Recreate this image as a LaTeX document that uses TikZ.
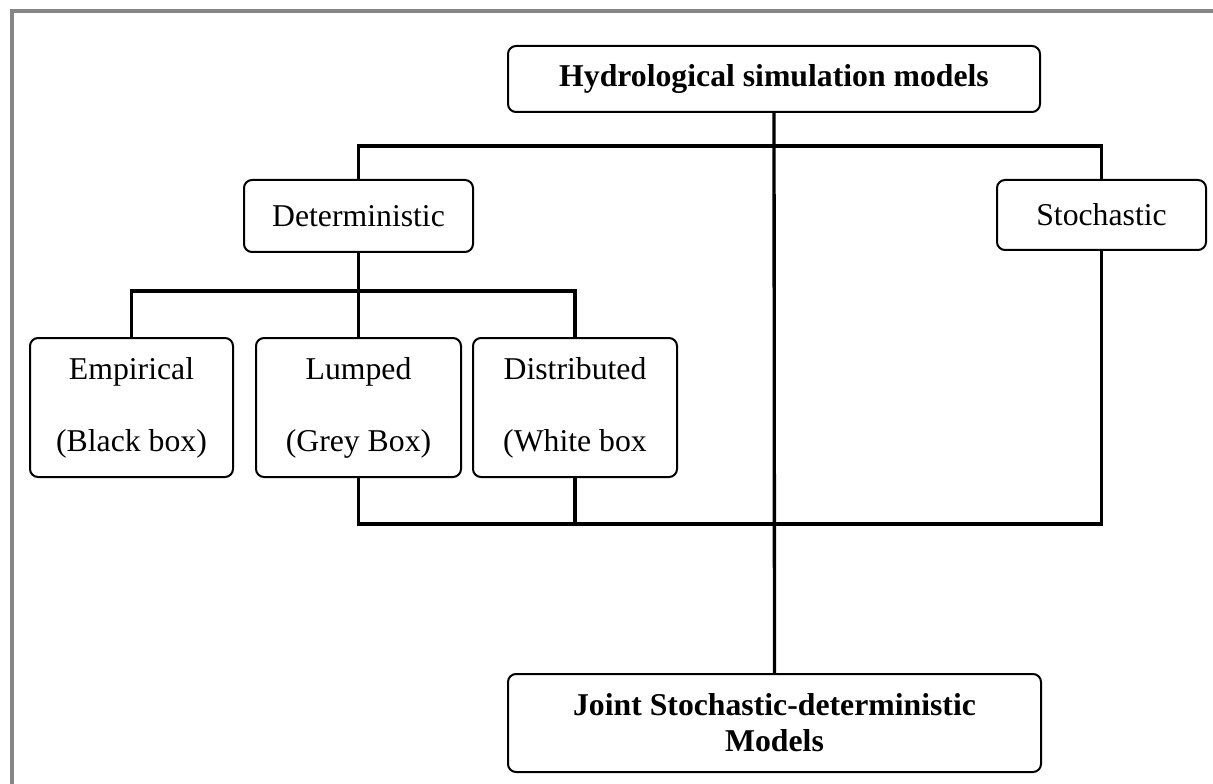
\documentclass[tikz,border=0pt]{standalone}
\usepackage{fontspec}
\setmainfont{Liberation Serif}

\tikzset{every picture/.style={line width=0.75pt}}
\tikzset{
  modelbox/.style={draw, rounded corners=6pt, line width=1.5pt, inner sep=0pt, align=center,
    font=\fontsize{23.8}{27}\selectfont},
  treeline/.style={line width=2.5pt},
  pageframe/.style={draw={rgb,255:red,134;green,134;blue,134}, line width=3pt}
}

\begin{document}
\begin{tikzpicture}[x=0.75pt,y=0.75pt,yscale=-1,xscale=1]
\useasboundingbox (0,0) rectangle (1213,784);

%Straight Lines [frame]
\draw [pageframe] (12,784) -- (12,11) -- (1213,11) ;

%Shape: Rounded Rectangle [top]
\node (hydro) at (774,79) [modelbox, minimum width=399pt, minimum height=49.5pt] {\bfseries Hydrological simulation models};
%Shape: Rounded Rectangle [second level]
\node (determ) at (358.5,216) [modelbox, minimum width=171.75pt, minimum height=54pt] {Deterministic};
\node (stoch) at (1101.5,215) [modelbox, minimum width=156.75pt, minimum height=52.5pt] {Stochastic};
%Shape: Rounded Rectangle [third level]
\node (empir) at (131.5,407.5) [modelbox, minimum width=152.25pt, minimum height=104.25pt] {Empirical\\[27pt](Black box)};
\node (lumped) at (358.5,407.5) [modelbox, minimum width=153.75pt, minimum height=104.25pt] {Lumped\\[27pt](Grey Box)};
\node (distrib) at (575,407.5) [modelbox, minimum width=153pt, minimum height=104.25pt] {Distributed\\[27pt](White box};
%Shape: Rounded Rectangle [bottom]
\node (joint) at (774.5,723) [modelbox, minimum width=399.75pt, minimum height=73.5pt] {\bfseries Joint Stochastic-deterministic\\\bfseries Models};

%Bar points
\coordinate (topbar) at (774.5,146) ;
\coordinate (detbar) at (358.5,291) ;
\coordinate (botbar) at (774.5,524) ;

%Straight Lines [trunk]
\draw [treeline] (hydro.south) -- (joint.north) ;
%Straight Lines [top bar]
\draw [treeline] (determ.north) |- (topbar) -| (stoch.north) ;
%Straight Lines [deterministic bar]
\draw [treeline] (determ.south) -- (detbar) ;
\draw [treeline] (empir.north) |- (detbar) -| (distrib.north) ;
\draw [treeline] (detbar) -- (lumped.north) ;
%Straight Lines [bottom bar]
\draw [treeline] (lumped.south) |- (botbar) -| (stoch.south) ;
\draw [treeline] (distrib.south) -- (distrib.south |- botbar) ;

\end{tikzpicture}
\end{document}
